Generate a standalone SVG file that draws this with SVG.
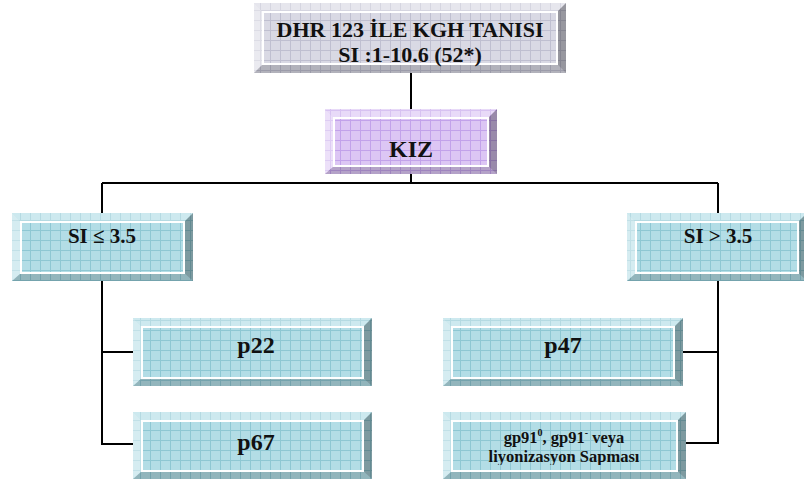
<svg xmlns="http://www.w3.org/2000/svg" width="804" height="482" viewBox="0 0 804 482">
  <style>
    .lbl { font-family: "Liberation Serif", "Times New Roman", serif; font-weight: bold; fill: #111; text-anchor: middle; }
    .bt { fill: #ffffff; opacity: 0.35; }
    .bl { fill: #ffffff; opacity: 0.45; }
    .br { fill: #000000; opacity: 0.3; }
    .bb { fill: #000000; opacity: 0.18; }
    .face { stroke: #ffffff; stroke-width: 2; }
    .wire { fill: none; stroke: #000; stroke-width: 2; }
  </style>
  <defs>
    <pattern id="gridGray" patternUnits="userSpaceOnUse" width="10" height="10">
      <rect width="10" height="10" fill="#d9d9e4"/>
      <path d="M0 0.5H10M0.5 0V10" stroke="#bfbfd0" stroke-width="1"/>
    </pattern>
    <pattern id="gridPurple" patternUnits="userSpaceOnUse" width="10" height="10">
      <rect width="10" height="10" fill="#dcc6f4"/>
      <path d="M0 0.5H10M0.5 0V10" stroke="#c2a2ea" stroke-width="1"/>
    </pattern>
    <pattern id="gridTeal" patternUnits="userSpaceOnUse" width="10" height="10">
      <rect width="10" height="10" fill="#b3dde6"/>
      <path d="M0 0.5H10M0.5 0V10" stroke="#8ec7d3" stroke-width="1"/>
    </pattern>
    <clipPath id="clipGp">
      <rect x="443" y="412" width="243" height="53"/>
    </clipPath>
  </defs>

  <!-- connectors -->
  <g id="connectors">
    <path class="wire" d="M411 73V109"/>
    <path class="wire" d="M411 174V183M102 183H718M102 183V213M718 183V213"/>
    <path class="wire" d="M102 281V444H133M102 352H133"/>
    <path class="wire" d="M718 281V443H686M718 352H683"/>
  </g>

  <!-- title box -->
  <g id="node-title">
    <rect x="254" y="3" width="312" height="70" fill="url(#gridGray)"/>
    <polygon class="bt" points="254,3 566,3 557,12 263,12"/>
    <polygon class="bl" points="254,3 263,12 263,64 254,73"/>
    <polygon class="br" points="566,3 566,73 557,64 557,12"/>
    <polygon class="bb" points="254,73 263,64 557,64 566,73"/>
    <rect class="face" x="263" y="12" width="294" height="52" fill="none"/>
    <text class="lbl" font-size="22"><tspan x="410" y="37">DHR 123 İLE KGH TANISI</tspan><tspan x="410" y="62">SI :1-10.6 (52*)</tspan></text>
  </g>

  <!-- KIZ -->
  <g id="node-kiz">
    <rect x="325" y="109" width="172" height="65" fill="url(#gridPurple)"/>
    <polygon class="bt" points="325,109 497,109 488,118 334,118"/>
    <polygon class="bl" points="325,109 334,118 334,166 325,174"/>
    <polygon class="br" points="497,109 497,174 488,166 488,118"/>
    <polygon class="bb" points="325,174 334,166 488,166 497,174"/>
    <rect class="face" x="334" y="118" width="154" height="48" fill="none"/>
    <text class="lbl" x="411" y="157" font-size="24">KIZ</text>
  </g>

  <!-- SI <= 3.5 -->
  <g id="node-si-low">
    <rect x="12" y="213" width="181" height="68" fill="url(#gridTeal)"/>
    <polygon class="bt" points="12,213 193,213 184,222 21,222"/>
    <polygon class="bl" points="12,213 21,222 21,273 12,281"/>
    <polygon class="br" points="193,213 193,281 184,273 184,222"/>
    <polygon class="bb" points="12,281 21,273 184,273 193,281"/>
    <rect class="face" x="21" y="222" width="163" height="51" fill="none"/>
    <text class="lbl" x="102" y="243" font-size="21">SI ≤ 3.5</text>
  </g>

  <!-- SI > 3.5 -->
  <g id="node-si-high">
    <rect x="627" y="213" width="180" height="68" fill="url(#gridTeal)"/>
    <polygon class="bt" points="627,213 807,213 798,222 636,222"/>
    <polygon class="bl" points="627,213 636,222 636,273 627,281"/>
    <polygon class="br" points="807,213 807,281 798,273 798,222"/>
    <polygon class="bb" points="627,281 636,273 798,273 807,281"/>
    <rect class="face" x="636" y="222" width="162" height="51" fill="none"/>
    <text class="lbl" x="718" y="243" font-size="21">SI &gt; 3.5</text>
  </g>

  <!-- p22 -->
  <g id="node-p22">
    <rect x="133" y="318" width="239" height="68" fill="url(#gridTeal)"/>
    <polygon class="bt" points="133,318 372,318 363,327 142,327"/>
    <polygon class="bl" points="133,318 142,327 142,378 133,386"/>
    <polygon class="br" points="372,318 372,386 363,378 363,327"/>
    <polygon class="bb" points="133,386 142,378 363,378 372,386"/>
    <rect class="face" x="142" y="327" width="221" height="51" fill="none"/>
    <text class="lbl" x="256" y="353" font-size="24">p22</text>
  </g>

  <!-- p67 -->
  <g id="node-p67">
    <rect x="133" y="412" width="239" height="67" fill="url(#gridTeal)"/>
    <polygon class="bt" points="133,412 372,412 363,421 142,421"/>
    <polygon class="bl" points="133,412 142,421 142,471 133,479"/>
    <polygon class="br" points="372,412 372,479 363,471 363,421"/>
    <polygon class="bb" points="133,479 142,471 363,471 372,479"/>
    <rect class="face" x="142" y="421" width="221" height="50" fill="none"/>
    <text class="lbl" x="256" y="450" font-size="24">p67</text>
  </g>

  <!-- p47 -->
  <g id="node-p47">
    <rect x="443" y="318" width="240" height="68" fill="url(#gridTeal)"/>
    <polygon class="bt" points="443,318 683,318 674,327 452,327"/>
    <polygon class="bl" points="443,318 452,327 452,378 443,386"/>
    <polygon class="br" points="683,318 683,386 674,378 674,327"/>
    <polygon class="bb" points="443,386 452,378 674,378 683,386"/>
    <rect class="face" x="452" y="327" width="222" height="51" fill="none"/>
    <text class="lbl" x="563" y="353" font-size="24">p47</text>
  </g>

  <!-- gp91 -->
  <g id="node-gp91">
    <rect x="443" y="412" width="243" height="67" fill="url(#gridTeal)"/>
    <polygon class="bt" points="443,412 686,412 677,421 452,421"/>
    <polygon class="bl" points="443,412 452,421 452,471 443,479"/>
    <polygon class="br" points="686,412 686,479 677,471 677,421"/>
    <polygon class="bb" points="443,479 452,471 677,471 686,479"/>
    <rect class="face" x="452" y="421" width="225" height="50" fill="none"/>
    <text class="lbl" font-size="16.5" clip-path="url(#clipGp)"><tspan x="564" y="443">gp91<tspan font-size="10" dy="-7">0</tspan><tspan dy="7">, gp91</tspan><tspan font-size="10" dy="-7">-</tspan><tspan dy="7"> veya</tspan></tspan><tspan x="564" y="462">liyonizasyon Sapması</tspan></text>
  </g>
</svg>
